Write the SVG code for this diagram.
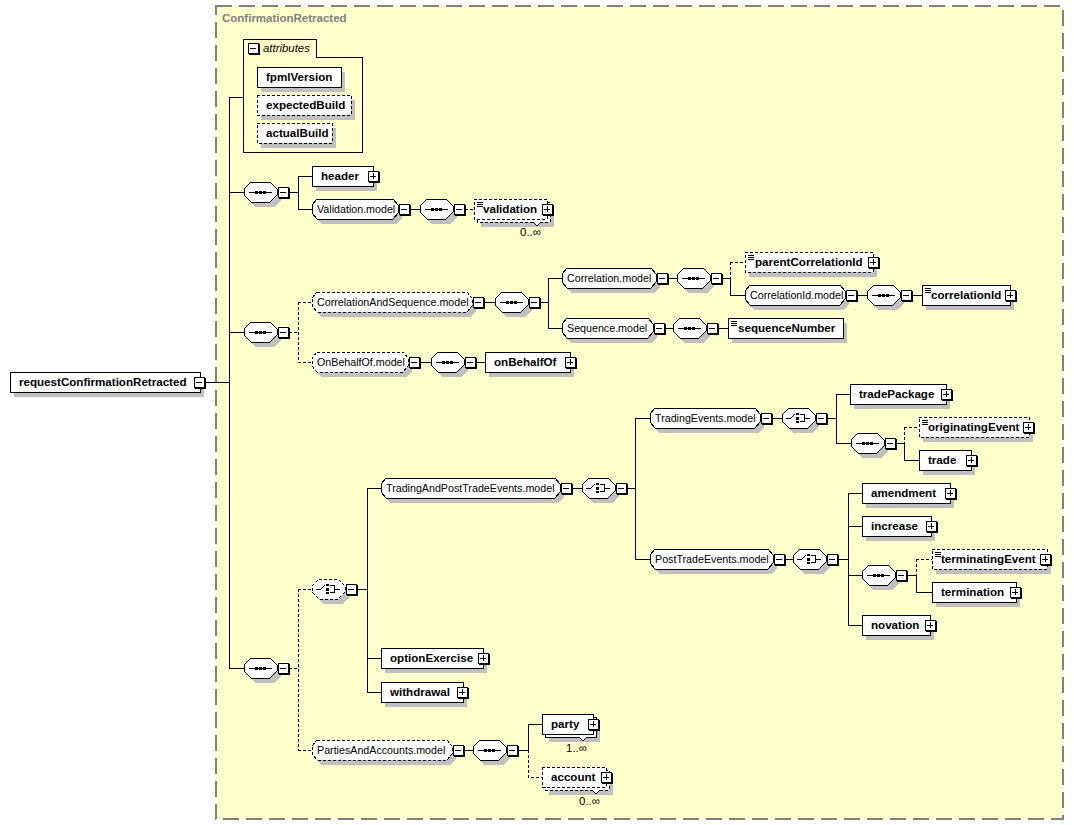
<svg xmlns="http://www.w3.org/2000/svg" width="1074" height="825" viewBox="0 0 1074 825" shape-rendering="crispEdges">
<style>
text{font-family:"Liberation Sans",Arial,sans-serif;fill:#000}
.b{font-size:11.6px;font-weight:bold}
.r{font-size:10.7px}
.m{font-size:11.5px}
.t{font-size:11.5px;font-weight:bold;fill:#808080}
.i{font-size:11.4px;font-style:italic}
.bx{fill:#fff;stroke:#000;stroke-width:1}
.dsh{stroke-dasharray:3,2}
.sh{fill:#c0c0c0}
.ln{fill:none;stroke:#000;stroke-width:1}
.frm{fill:#ffffcc;stroke:#808080;stroke-width:2;stroke-dasharray:16,7}
.nt{fill:#fff;stroke:#000;stroke-width:1}
</style>
<defs>
<g id="mn"><rect x="1" y="1" width="10.5" height="10.5" fill="#000"/><rect x="0" y="0" width="10" height="10" class="bx"/><path d="M2 5H8" class="ln"/></g>
<g id="pl"><rect x="1" y="1" width="10.5" height="10.5" fill="#000"/><rect x="0" y="0" width="10" height="10" class="bx"/><path d="M2 5H8M5 2V8" class="ln"/></g>
<g id="sq"><path d="M5 10H28" class="ln"/><rect x="11" y="9" width="3" height="3"/><rect x="15" y="9" width="3" height="3"/><rect x="19" y="9" width="3" height="3"/></g>
<g id="ch"><path d="M4 10H9L13 6M18 6.5H22V13.5H18M22 10H28" class="ln"/><rect x="14" y="5" width="3" height="2"/><rect x="14" y="8.5" width="3" height="3"/><rect x="14" y="13" width="3" height="2"/></g>
<path id="doc" d="M3 3H9M3 5H9M3 7H9" class="ln"/>
</defs>

<g id="frame">
<rect x="215.5" y="5.5" width="847" height="813.5" class="frm"/>
<text x="222" y="22" class="t">ConfirmationRetracted</text>
</g>

<g id="connectors" class="ln">
<path d="M205 382H229M229 97V668M229 97H243M229 192H244M229 332H244M229 668H244"/>
<path d="M289 192H298M298 176V209M298 176H312M298 209H312M410 209H420"/>
<path class="dsh" d="M465 209H474"/>
<path class="dsh" d="M289 332H298M298 302V362M298 302H312M298 362H312M730 262V278M730 262H745"/>
<path d="M484 302H495M540 302H548M548 278V328M548 278H562M548 328H562M668 278H677M722 278H730M730 278V295H745M857 295H867M912 295H922M665 328H673M718 328H728M420 362H431M476 362H485"/>
<path class="dsh" d="M289 668H298M298 589V750M298 589H312M298 750H312M904 427V443M904 427H919M916 559V575M916 559H932M528 750V777H542"/>
<path d="M357 589H367M367 488V692M367 488H381M367 658H381M367 692H381M572 488H582M627 488H635M635 418V559M635 418H650M635 559H650M772 418H782M827 418H836M836 394V443M836 394H850M836 443H851M896 443H904M904 443V460H919M785 559H793M838 559H848M848 493V625M848 493H862M848 526H862M848 575H862M848 625H862M907 575H916M916 575V592H932M464 750H473M518 750H528M528 724V750M528 724H542"/>
</g>

<g id="n-root"><rect x="14" y="377" width="190" height="20" class="sh"/><rect x="10" y="372" width="190" height="20" class="bx"/><text x="19" y="386" class="b">requestConfirmationRetracted</text><use href="#mn" x="194" y="377"/></g>

<g id="n-attributes"><path d="M243 39H316V57H362V152H243Z" class="ln"/><use href="#mn" x="248" y="43"/><text x="263" y="52" class="i">attributes</text></g>
<g id="n-fpmlVersion"><rect x="261" y="72" width="84" height="20" class="sh"/><rect x="257" y="67" width="84" height="20" class="bx"/><text x="266" y="81" class="b">fpmlVersion</text></g>
<g id="n-expectedBuild"><rect x="261" y="100" width="94" height="20" class="sh"/><rect x="257" y="95" width="94" height="20" class="bx dsh"/><text x="266" y="109" class="b">expectedBuild</text></g>
<g id="n-actualBuild"><rect x="261" y="128" width="75" height="20" class="sh"/><rect x="257" y="123" width="75" height="20" class="bx dsh"/><text x="266" y="137" class="b">actualBuild</text></g>

<g id="n-seq1"><polygon transform="translate(4,5)" class="sh" points="251,182 270,182 277,189 277,195 270,202 251,202 244,195 244,189"/><polygon class="bx" points="251,182 270,182 277,189 277,195 270,202 251,202 244,195 244,189"/><use href="#sq" x="244" y="182"/><use href="#mn" x="278" y="187"/></g>
<g id="n-header"><rect x="316" y="171" width="61" height="20" class="sh"/><rect x="312" y="166" width="61" height="20" class="bx"/><text x="321" y="180" class="b">header</text><use href="#pl" x="368" y="171"/></g>
<g id="n-validationModel"><polygon transform="translate(4,5)" class="sh" points="317,199 393,199 398,205 398,213 393,219 317,219 312,213 312,205"/><polygon class="bx" points="317,199 393,199 398,205 398,213 393,219 317,219 312,213 312,205"/><text x="317" y="213" class="r">Validation.model</text><use href="#mn" x="399" y="204"/></g>
<g id="n-seq4"><polygon transform="translate(4,5)" class="sh" points="427,199 446,199 453,206 453,212 446,219 427,219 420,212 420,206"/><polygon class="bx" points="427,199 446,199 453,206 453,212 446,219 427,219 420,212 420,206"/><use href="#sq" x="420" y="199"/><use href="#mn" x="454" y="204"/></g>
<g id="n-validation"><rect x="481" y="207" width="73" height="20" class="sh"/><rect x="477" y="202" width="73" height="20" class="bx dsh"/><rect x="474" y="199" width="73" height="20" class="bx dsh"/><polyline points="533,222 537,226 541,222" class="nt"/><use href="#doc" x="474" y="199"/><text x="483" y="213" class="b">validation</text><use href="#pl" x="542" y="204"/><text x="541" y="236" class="m" text-anchor="end">0..∞</text></g>

<g id="n-seq2"><polygon transform="translate(4,5)" class="sh" points="251,322 270,322 277,329 277,335 270,342 251,342 244,335 244,329"/><polygon class="bx" points="251,322 270,322 277,329 277,335 270,342 251,342 244,335 244,329"/><use href="#sq" x="244" y="322"/><use href="#mn" x="278" y="327"/></g>
<g id="n-corrSeqModel"><polygon transform="translate(4,5)" class="sh" points="317,292 467,292 472,298 472,306 467,312 317,312 312,306 312,298"/><polygon class="bx dsh" points="317,292 467,292 472,298 472,306 467,312 317,312 312,306 312,298"/><text x="317" y="306" class="r">CorrelationAndSequence.model</text><use href="#mn" x="473" y="297"/></g>
<g id="n-seq5"><polygon transform="translate(4,5)" class="sh" points="502,292 521,292 528,299 528,305 521,312 502,312 495,305 495,299"/><polygon class="bx" points="502,292 521,292 528,299 528,305 521,312 502,312 495,305 495,299"/><use href="#sq" x="495" y="292"/><use href="#mn" x="529" y="297"/></g>
<g id="n-correlationModel"><polygon transform="translate(4,5)" class="sh" points="567,268 651,268 656,274 656,282 651,288 567,288 562,282 562,274"/><polygon class="bx" points="567,268 651,268 656,274 656,282 651,288 567,288 562,282 562,274"/><text x="567" y="282" class="r">Correlation.model</text><use href="#mn" x="657" y="273"/></g>
<g id="n-seq6"><polygon transform="translate(4,5)" class="sh" points="684,268 703,268 710,275 710,281 703,288 684,288 677,281 677,275"/><polygon class="bx" points="684,268 703,268 710,275 710,281 703,288 684,288 677,281 677,275"/><use href="#sq" x="677" y="268"/><use href="#mn" x="711" y="273"/></g>
<g id="n-parentCorrelationId"><rect x="749" y="257" width="128" height="20" class="sh"/><rect x="745" y="252" width="128" height="20" class="bx dsh"/><use href="#doc" x="745" y="252"/><text x="755" y="266" class="b">parentCorrelationId</text><use href="#pl" x="868" y="257"/></g>
<g id="n-correlationIdModel"><polygon transform="translate(4,5)" class="sh" points="750,285 840,285 845,291 845,299 840,305 750,305 745,299 745,291"/><polygon class="bx" points="750,285 840,285 845,291 845,299 840,305 750,305 745,299 745,291"/><text x="750" y="299" class="r">CorrelationId.model</text><use href="#mn" x="846" y="290"/></g>
<g id="n-seq7"><polygon transform="translate(4,5)" class="sh" points="874,285 893,285 900,292 900,298 893,305 874,305 867,298 867,292"/><polygon class="bx" points="874,285 893,285 900,292 900,298 893,305 874,305 867,298 867,292"/><use href="#sq" x="867" y="285"/><use href="#mn" x="901" y="290"/></g>
<g id="n-correlationId"><rect x="926" y="290" width="88" height="20" class="sh"/><rect x="922" y="285" width="88" height="20" class="bx"/><use href="#doc" x="922" y="285"/><text x="931" y="299" class="b">correlationId</text><use href="#pl" x="1005" y="290"/></g>
<g id="n-sequenceModel"><polygon transform="translate(4,5)" class="sh" points="567,318 648,318 653,324 653,332 648,338 567,338 562,332 562,324"/><polygon class="bx" points="567,318 648,318 653,324 653,332 648,338 567,338 562,332 562,324"/><text x="567" y="332" class="r">Sequence.model</text><use href="#mn" x="654" y="323"/></g>
<g id="n-seq8"><polygon transform="translate(4,5)" class="sh" points="680,318 699,318 706,325 706,331 699,338 680,338 673,331 673,325"/><polygon class="bx" points="680,318 699,318 706,325 706,331 699,338 680,338 673,331 673,325"/><use href="#sq" x="673" y="318"/><use href="#mn" x="707" y="323"/></g>
<g id="n-sequenceNumber"><rect x="732" y="323" width="115" height="20" class="sh"/><rect x="728" y="318" width="115" height="20" class="bx"/><use href="#doc" x="728" y="318"/><text x="738" y="332" class="b">sequenceNumber</text></g>
<g id="n-onBehalfOfModel"><polygon transform="translate(4,5)" class="sh" points="317,352 403,352 408,358 408,366 403,372 317,372 312,366 312,358"/><polygon class="bx dsh" points="317,352 403,352 408,358 408,366 403,372 317,372 312,366 312,358"/><text x="317" y="366" class="r">OnBehalfOf.model</text><use href="#mn" x="409" y="357"/></g>
<g id="n-seq9"><polygon transform="translate(4,5)" class="sh" points="438,352 457,352 464,359 464,365 457,372 438,372 431,365 431,359"/><polygon class="bx" points="438,352 457,352 464,359 464,365 457,372 438,372 431,365 431,359"/><use href="#sq" x="431" y="352"/><use href="#mn" x="465" y="357"/></g>
<g id="n-onBehalfOf"><rect x="489" y="357" width="85" height="20" class="sh"/><rect x="485" y="352" width="85" height="20" class="bx"/><text x="494" y="366" class="b">onBehalfOf</text><use href="#pl" x="565" y="357"/></g>

<g id="n-seq3"><polygon transform="translate(4,5)" class="sh" points="251,658 270,658 277,665 277,671 270,678 251,678 244,671 244,665"/><polygon class="bx" points="251,658 270,658 277,665 277,671 270,678 251,678 244,671 244,665"/><use href="#sq" x="244" y="658"/><use href="#mn" x="278" y="663"/></g>
<g id="n-choice10"><polygon transform="translate(4,5)" class="sh" points="319,579 338,579 345,586 345,592 338,599 319,599 312,592 312,586"/><polygon class="bx dsh" points="319,579 338,579 345,586 345,592 338,599 319,599 312,592 312,586"/><use href="#ch" x="312" y="579"/><use href="#mn" x="346" y="584"/></g>
<g id="n-tradingPostModel"><polygon transform="translate(4,5)" class="sh" points="386,478 555,478 560,484 560,492 555,498 386,498 381,492 381,484"/><polygon class="bx" points="386,478 555,478 560,484 560,492 555,498 386,498 381,492 381,484"/><text x="386" y="492" class="r">TradingAndPostTradeEvents.model</text><use href="#mn" x="561" y="483"/></g>
<g id="n-choice11"><polygon transform="translate(4,5)" class="sh" points="589,478 608,478 615,485 615,491 608,498 589,498 582,491 582,485"/><polygon class="bx" points="589,478 608,478 615,485 615,491 608,498 589,498 582,491 582,485"/><use href="#ch" x="582" y="478"/><use href="#mn" x="616" y="483"/></g>
<g id="n-tradingEventsModel"><polygon transform="translate(4,5)" class="sh" points="655,408 755,408 760,414 760,422 755,428 655,428 650,422 650,414"/><polygon class="bx" points="655,408 755,408 760,414 760,422 755,428 655,428 650,422 650,414"/><text x="655" y="422" class="r">TradingEvents.model</text><use href="#mn" x="761" y="413"/></g>
<g id="n-choice12"><polygon transform="translate(4,5)" class="sh" points="789,408 808,408 815,415 815,421 808,428 789,428 782,421 782,415"/><polygon class="bx" points="789,408 808,408 815,415 815,421 808,428 789,428 782,421 782,415"/><use href="#ch" x="782" y="408"/><use href="#mn" x="816" y="413"/></g>
<g id="n-tradePackage"><rect x="854" y="389" width="96" height="20" class="sh"/><rect x="850" y="384" width="96" height="20" class="bx"/><text x="859" y="398" class="b">tradePackage</text><use href="#pl" x="941" y="389"/></g>
<g id="n-seq13"><polygon transform="translate(4,5)" class="sh" points="858,433 877,433 884,440 884,446 877,453 858,453 851,446 851,440"/><polygon class="bx" points="858,433 877,433 884,440 884,446 877,453 858,453 851,446 851,440"/><use href="#sq" x="851" y="433"/><use href="#mn" x="885" y="438"/></g>
<g id="n-originatingEvent"><rect x="923" y="422" width="110" height="20" class="sh"/><rect x="919" y="417" width="110" height="20" class="bx dsh"/><use href="#doc" x="919" y="417"/><text x="928" y="431" class="b">originatingEvent</text><use href="#pl" x="1023" y="422"/></g>
<g id="n-trade"><rect x="923" y="455" width="52" height="20" class="sh"/><rect x="919" y="450" width="52" height="20" class="bx"/><text x="928" y="464" class="b">trade</text><use href="#pl" x="966" y="455"/></g>
<g id="n-postTradeModel"><polygon transform="translate(4,5)" class="sh" points="655,549 768,549 773,555 773,563 768,569 655,569 650,563 650,555"/><polygon class="bx" points="655,549 768,549 773,555 773,563 768,569 655,569 650,563 650,555"/><text x="655" y="563" class="r">PostTradeEvents.model</text><use href="#mn" x="774" y="554"/></g>
<g id="n-choice14"><polygon transform="translate(4,5)" class="sh" points="800,549 819,549 826,556 826,562 819,569 800,569 793,562 793,556"/><polygon class="bx" points="800,549 819,549 826,556 826,562 819,569 800,569 793,562 793,556"/><use href="#ch" x="793" y="549"/><use href="#mn" x="827" y="554"/></g>
<g id="n-amendment"><rect x="866" y="488" width="88" height="20" class="sh"/><rect x="862" y="483" width="88" height="20" class="bx"/><text x="871" y="497" class="b">amendment</text><use href="#pl" x="945" y="488"/></g>
<g id="n-increase"><rect x="866" y="521" width="69" height="20" class="sh"/><rect x="862" y="516" width="69" height="20" class="bx"/><text x="871" y="530" class="b">increase</text><use href="#pl" x="926" y="521"/></g>
<g id="n-seq15"><polygon transform="translate(4,5)" class="sh" points="869,565 888,565 895,572 895,578 888,585 869,585 862,578 862,572"/><polygon class="bx" points="869,565 888,565 895,572 895,578 888,585 869,585 862,578 862,572"/><use href="#sq" x="862" y="565"/><use href="#mn" x="896" y="570"/></g>
<g id="n-terminatingEvent"><rect x="936" y="554" width="115" height="20" class="sh"/><rect x="932" y="549" width="115" height="20" class="bx dsh"/><use href="#doc" x="932" y="549"/><text x="941" y="563" class="b">terminatingEvent</text><use href="#pl" x="1040" y="554"/></g>
<g id="n-termination"><rect x="936" y="587" width="84" height="20" class="sh"/><rect x="932" y="582" width="84" height="20" class="bx"/><text x="941" y="596" class="b">termination</text><use href="#pl" x="1010" y="587"/></g>
<g id="n-novation"><rect x="866" y="620" width="68" height="20" class="sh"/><rect x="862" y="615" width="68" height="20" class="bx"/><text x="871" y="629" class="b">novation</text><use href="#pl" x="925" y="620"/></g>
<g id="n-optionExercise"><rect x="385" y="653" width="102" height="20" class="sh"/><rect x="381" y="648" width="102" height="20" class="bx"/><text x="390" y="662" class="b">optionExercise</text><use href="#pl" x="478" y="653"/></g>
<g id="n-withdrawal"><rect x="385" y="687" width="82" height="20" class="sh"/><rect x="381" y="682" width="82" height="20" class="bx"/><text x="390" y="696" class="b">withdrawal</text><use href="#pl" x="457" y="687"/></g>
<g id="n-partiesModel"><polygon transform="translate(4,5)" class="sh" points="317,740 447,740 452,746 452,754 447,760 317,760 312,754 312,746"/><polygon class="bx dsh" points="317,740 447,740 452,746 452,754 447,760 317,760 312,754 312,746"/><text x="317" y="754" class="r">PartiesAndAccounts.model</text><use href="#mn" x="453" y="745"/></g>
<g id="n-seq16"><polygon transform="translate(4,5)" class="sh" points="480,740 499,740 506,747 506,753 499,760 480,760 473,753 473,747"/><polygon class="bx" points="480,740 499,740 506,747 506,753 499,760 480,760 473,753 473,747"/><use href="#sq" x="473" y="740"/><use href="#mn" x="507" y="745"/></g>
<g id="n-party"><rect x="549" y="722" width="51" height="20" class="sh"/><rect x="545" y="717" width="51" height="20" class="bx"/><rect x="542" y="714" width="51" height="20" class="bx"/><polyline points="579,737 583,741 587,737" class="nt"/><text x="551" y="728" class="b">party</text><use href="#pl" x="588" y="719"/><text x="587" y="752" class="m" text-anchor="end">1..∞</text></g>
<g id="n-account"><rect x="549" y="775" width="64" height="20" class="sh"/><rect x="545" y="770" width="64" height="20" class="bx dsh"/><rect x="542" y="767" width="64" height="20" class="bx dsh"/><polyline points="592,790 596,794 600,790" class="nt"/><text x="551" y="781" class="b">account</text><use href="#pl" x="601" y="772"/><text x="600" y="805" class="m" text-anchor="end">0..∞</text></g>
</svg>
